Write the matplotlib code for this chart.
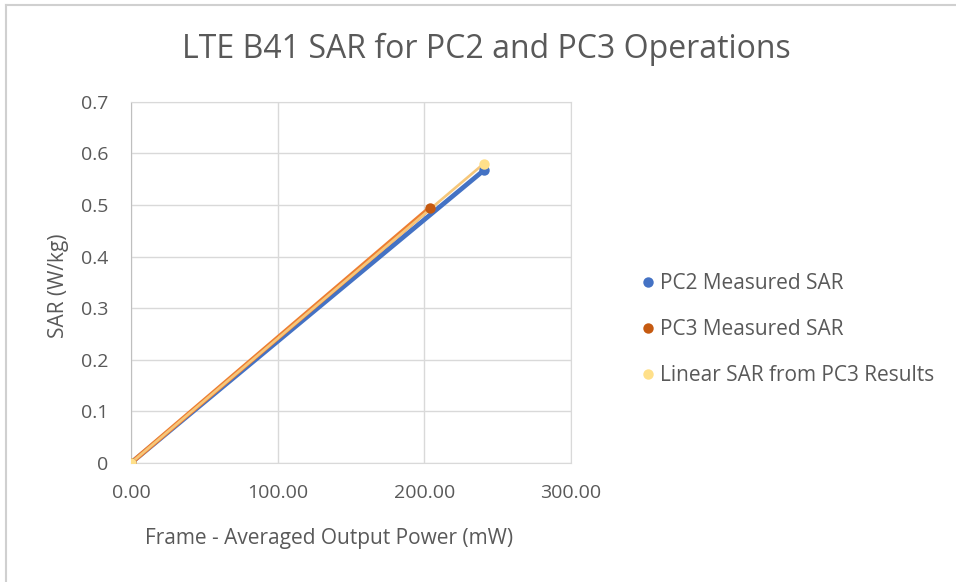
import matplotlib.pyplot as plt
from matplotlib.lines import Line2D

plt.rcParams['font.family'] = ['Open Sans', 'DejaVu Sans']

# output power (mW) and SAR (W/kg), each series starts at the origin
pc2_power = [0.0, 240.6]
pc2_sar = [0.0, 0.567]
pc3_power = [0.0, 203.8]
pc3_sar = [0.0, 0.494]
lin_power = [0.0, 240.6]
lin_sar = [0.0, 0.580]

labels = ["PC2 Measured SAR", "PC3 Measured SAR", "Linear SAR from PC3 Results"]
colors = ["#4472C4", "#C55A11", "#FFE08A"]
line_colors = ["#4472C4", "#ED7D31", "#F6C77A"]

x_ticks = [0, 100, 200, 300]
y_ticks = [0, 0.1, 0.2, 0.3, 0.4, 0.5, 0.6, 0.7]
y_ticklabels = ["0", "0.1", "0.2", "0.3", "0.4", "0.5", "0.6", "0.7"]

fig = plt.figure(figsize=(9.56, 5.82), dpi=100)
ax = fig.add_axes([0.137, 0.2045, 0.46, 0.6205])

series = [(pc2_power, pc2_sar), (pc3_power, pc3_sar), (lin_power, lin_sar)]
widths = [3.4, 3.4, 1.9]
for (xs, ys), c, lc, w in zip(series, colors, line_colors, widths):
    ax.plot(xs, ys, color=lc, lw=w, solid_capstyle='round', zorder=3)
    ax.plot(xs, ys, 'o', color=c, ms=7.5, mec='none', zorder=4)

ax.set_xlim(0, 300)
ax.set_ylim(0, 0.7)
ax.set_xticks(x_ticks)
ax.set_xticklabels([f"{t:.2f}" for t in x_ticks])
ax.set_yticks(y_ticks)
ax.set_yticklabels(y_ticklabels)
ax.grid(True, color="#D9D9D9", lw=1)
ax.set_axisbelow(True)
for s in ax.spines.values():
    s.set_color("#D9D9D9")
ax.spines['left'].set_color("#BFBFBF")
ax.tick_params(length=0, colors="#595959", labelsize=14)
ax.tick_params(axis='x', pad=15)
ax.tick_params(axis='y', pad=16)

ax.set_xlabel("Frame - Averaged Output Power (mW)", fontsize=15,
              color="#595959")
ax.xaxis.set_label_coords(0.45, -0.18)
ax.set_ylabel("SAR (W/kg)", fontsize=15, color="#595959")
ax.yaxis.set_label_coords(-0.14, 0.49)
fig.text(0.509, 0.916, "LTE B41 SAR for PC2 and PC3 Operations",
         ha='center', va='center', fontsize=23, color="#595959")

handles = [Line2D([], [], ls='none', marker='o', ms=7.5, color=c, mec='none')
           for c in colors]
fig.legend(handles, labels, loc='center left', bbox_to_anchor=(0.647, 0.433),
           frameon=False, fontsize=15, labelcolor="#595959",
           handletextpad=0.1, labelspacing=1.2, handlelength=1.0)

# thin frame lines along the top and left edges
fig.add_artist(Line2D([0.006, 1.0], [0.991, 0.991], color="#D0D0D0", lw=1.5,
                      transform=fig.transFigure))
fig.add_artist(Line2D([0.006, 0.006], [0.0, 0.991], color="#D0D0D0", lw=1.5,
                      transform=fig.transFigure))

fig.savefig("out.png", dpi=100)
